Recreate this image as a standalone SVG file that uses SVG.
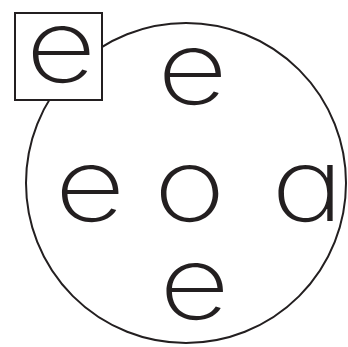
<svg xmlns="http://www.w3.org/2000/svg" width="348" height="347" viewBox="0 0 348 347">
<style>
.l{font-family:Inter,"Liberation Sans",sans-serif;font-weight:250;font-size:102px;fill:#231f20;text-anchor:middle;font-feature-settings:"cv11" 1;}
.s{fill:none;stroke:#231f20;stroke-width:2}
</style>
<rect width="348" height="347" fill="#fff"/>
<g id="ring"><circle class="s" cx="186" cy="183" r="160"/></g>
<g id="connectors"></g>
<g id="node-box"><rect x="15" y="13" width="87" height="87" fill="#fff" stroke="#231f20" stroke-width="2"/><text class="l" transform="translate(61 82) scale(1.2 1)">e</text></g>
<g id="node-top"><text class="l" transform="translate(192.5 104) scale(1.2 1)">e</text></g>
<g id="node-left"><text class="l" transform="translate(90 221) scale(1.2 1)">e</text></g>
<g id="node-center"><text class="l" transform="translate(189.5 221) scale(1.2 1)">o</text></g>
<g id="node-right"><text class="l" transform="translate(307.5 221) scale(1.2 1)">a</text></g>
<g id="node-bottom"><text class="l" transform="translate(194.5 319) scale(1.2 1)">e</text></g>
</svg>
